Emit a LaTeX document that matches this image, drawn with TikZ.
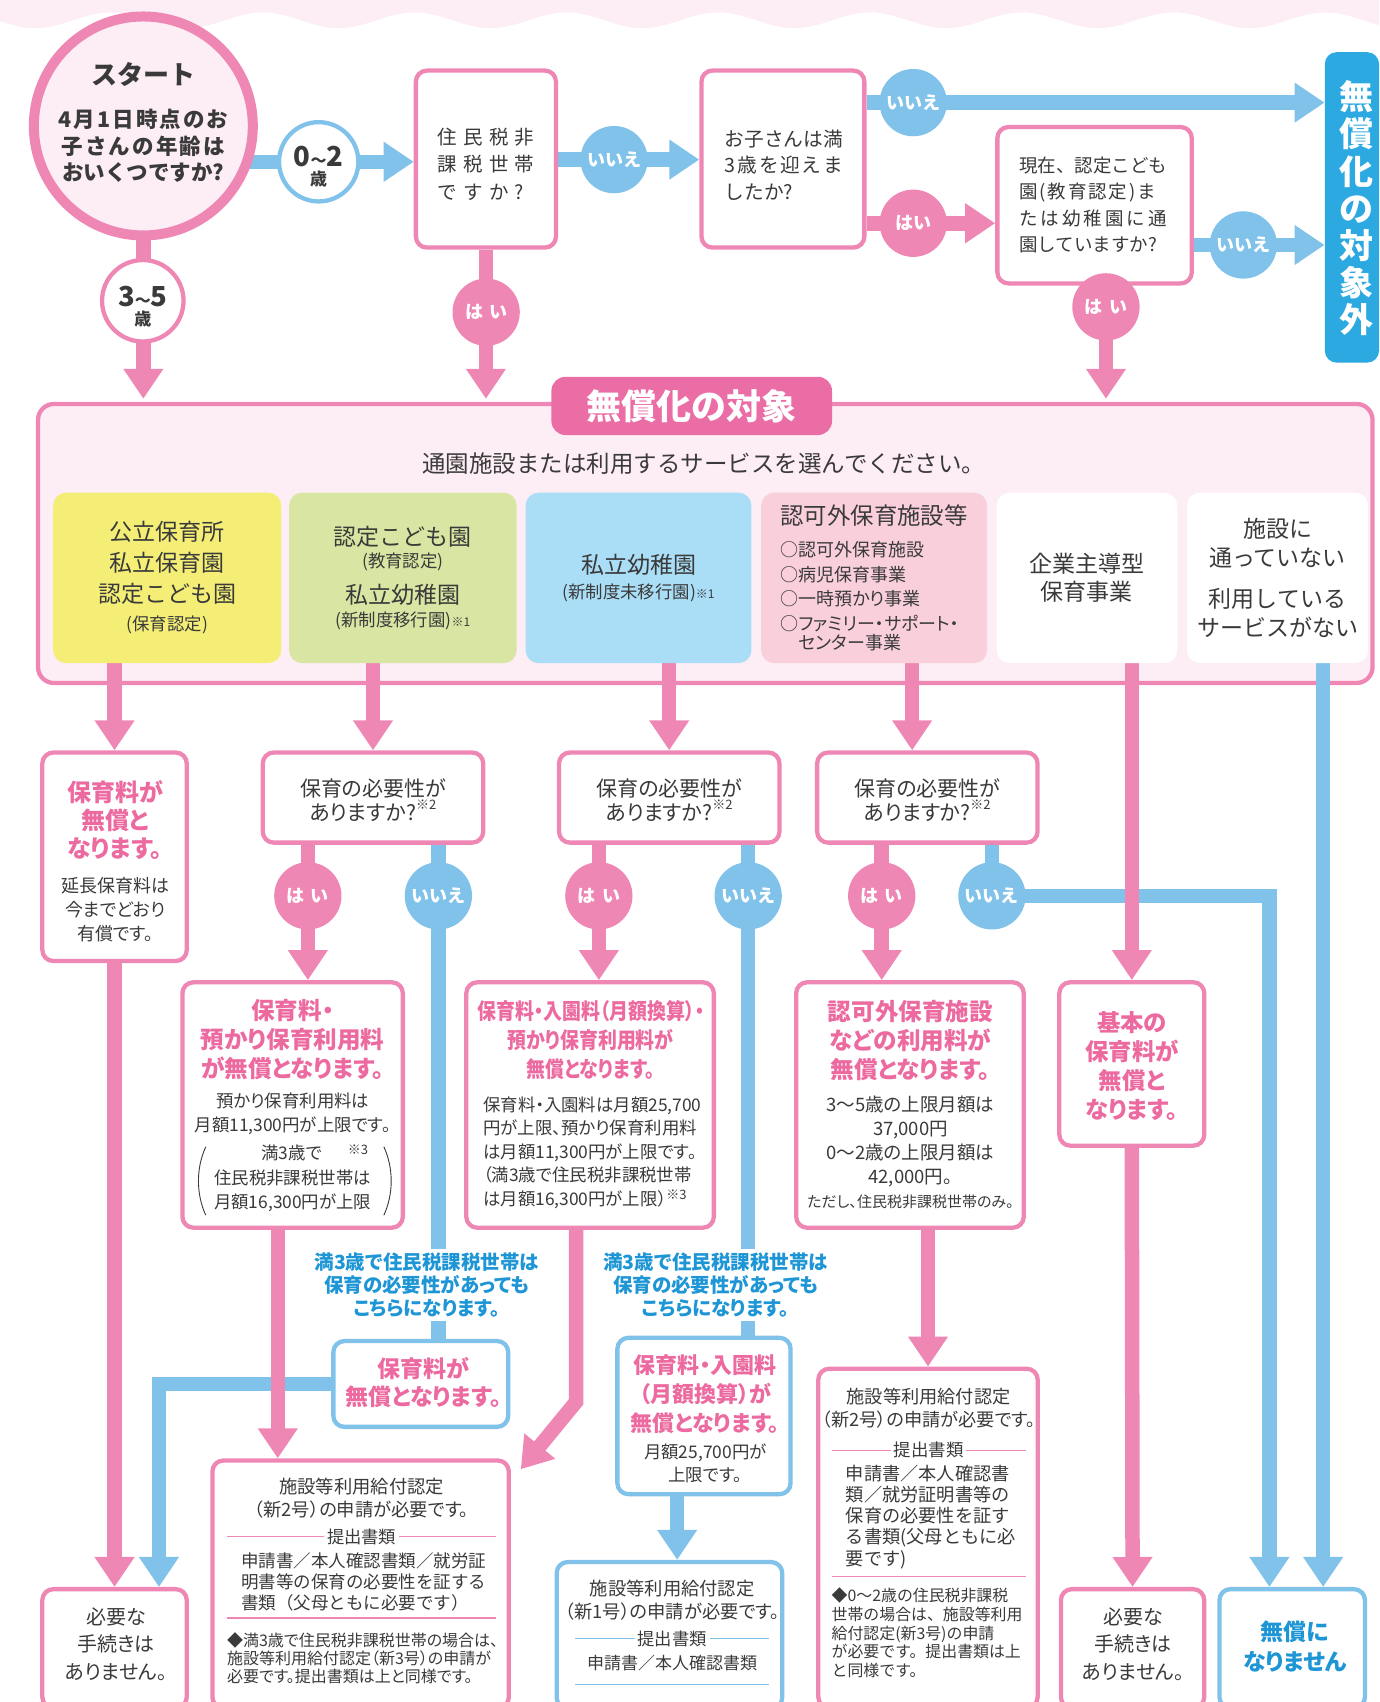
\documentclass[tikz,border=0pt]{standalone}
\usepackage{fontspec}
\usepackage{graphicx}
\setmainfont{Noto Sans CJK JP}
\newfontfamily\pf{Noto Sans CJK JP}[RawFeature=+palt]
\usetikzlibrary{arrows.meta,calc}
\definecolor{pk}{HTML}{EF87B5}
\definecolor{pktext}{HTML}{EC6AA0}
\definecolor{pktab}{HTML}{EB6DA5}
\definecolor{bl}{HTML}{80C2EA}
\definecolor{bltext}{HTML}{1E96D6}
\definecolor{bldeep}{HTML}{2DA9E1}
\definecolor{lpink}{HTML}{FDEDF5}
\definecolor{cyel}{HTML}{F4EE77}
\definecolor{cgrn}{HTML}{D9E6A3}
\definecolor{cblu}{HTML}{AADDF6}
\definecolor{cpnk}{HTML}{F9CFDC}
\definecolor{txt}{HTML}{3A3A3A}
\newcommand\fz[2]{\fontsize{#1pt}{#2pt}\selectfont\lineskiplimit=-\maxdimen\relax}
\newcommand\pkl[2]{{\fz{#1}{#1}\bfseries\color{pktext}#2}}
\newcommand\pkn[1]{\scalebox{0.86}[1]{\pkl{22}{#1}}}
\newcommand\lft[2]{\makebox[#1][l]{#2}}
\newcommand\seprule[2]{{\color{#2}\rule{#1}{1.1pt}}}
\newcommand\tsline[2]{\makebox[#1]{{\color{#2}\leaders\hrule height 7.2pt depth -6.1pt\hfill}\hspace{3pt}提出書類\hspace{3pt}{\color{#2}\leaders\hrule height 7.2pt depth -6.1pt\hfill}}}
\makeatletter
\newcommand\ltsp[2]{\def\ltsp@k{\kern#1}\ltsp@a#2\@nil}
\def\ltsp@a#1#2\@nil{#1\ifx\relax#2\relax\else\ltsp@k\ltsp@a#2\@nil\fi}
\makeatother
\pgfdeclarelayer{back}
\pgfdeclarelayer{bg}
\pgfsetlayers{back,bg,main}
\begin{document}
\begin{tikzpicture}[x=1.0859pt,y=-1.0859pt,line join=miter,
 sz/.style 2 args={minimum width=#1*1.0859pt,minimum height=#2*1.0859pt},
 pbox/.style={draw=pk,line width=4.3pt,fill=white,rounded corners=11pt,inner sep=0pt},
 bbox/.style={pbox,draw=bl},
 catbox/.style={rounded corners=13pt,inner sep=0pt,align=center,text=txt,font=\fz{23}{31}},
 bt/.style={align=center,text=txt,inner sep=0pt},
 qt/.style={align=left,text=txt,inner sep=0pt},
 labc/.style={circle,inner sep=0pt,minimum size=67.3pt,text=white,font=\fz{18}{18}\bfseries},
 yesc/.style={labc,fill=pk},
 noc/.style={labc,fill=bl},
 pbar/.style={draw=pk,line width=14.5pt},
 bbar/.style={draw=bl,line width=14.5pt},
 arrowend/.style={-{Triangle[width=38pt,length=30pt]}},
 paren/.style={draw=txt,line width=0.9pt},
 note/.style={fill=white,inner sep=4pt,align=center,text=bltext,font=\pf\fz{19.5}{23.1}\bfseries}]
\useasboundingbox (0,0) rectangle (1270,1567.4);

\begin{pgfonlayer}{back}
\fill[lpink] (0,0) -- (1270,0) -- plot[domain=1270:0,samples=200] (\x,{18.7+7.3*sin(2.5751*(\x+2.55))}) -- cycle;
\node[draw=pk,line width=4.3pt,fill=lpink,rounded corners=16pt,inner sep=0pt,sz={1229}{257}] (band) at (649.5,500.5) {};
\end{pgfonlayer}

% ---------- top part
\node[circle,draw=pk,line width=10pt,fill=lpink,minimum size=219pt,inner sep=0pt] (start) at (132,116) {};
\node[bt,font=\fz{21.5}{26.6}\bfseries] (startt) at (132,113) {{\fz{26}{26}スタート}\\[16pt]\ltsp{0.1em}{4月1日時点のお}\\\ltsp{0.1em}{子さんの年齢は}\\おいくつですか?};

\node[circle,draw=pk,line width=4.3pt,fill=white,minimum size=81.5pt,inner sep=0pt] (age35) at (131.5,277) {};
\node[bt,font=\fz{17}{21}\bfseries] (age35t) at (131.5,282.6) {{\fz{27.5}{27.5}3}{\fz{16}{16}～}{\fz{27.5}{27.5}5}\\[-2.3pt]歳};
\node[circle,draw=bl,line width=4.3pt,fill=white,minimum size=79.3pt,inner sep=0pt] (age02) at (293.5,149) {};
\node[bt,font=\fz{17}{21}\bfseries] (age02t) at (293.5,153.5) {{\fz{27.5}{27.5}0}{\fz{16}{16}～}{\fz{27.5}{27.5}2}\\[-2.3pt]歳};

\node[pbox,sz={129}{163}] (q1) at (447.5,146.5) {};
\node[qt,font=\fz{19.5}{27.4}] (q1t) at (447.5,151.3) {\ltsp{6.2pt}{住民税非}\\\ltsp{6.2pt}{課税世帯}\\\ltsp{6.2pt}{ですか?}};
\node[pbox,sz={150}{163}] (q2) at (721,146.5) {};
\node[qt,font=\fz{19.7}{26.7}] (q2t) at (722,152) {お子さんは満\\\ltsp{0.09em}{3歳を迎えま}\\したか?};
\node[pbox,sz={179}{144}] (q3) at (1008,189) {};
\node[qt,font=\fz{18.5}{26.6}] (q3t) at (1007,188.8) {現在、認定こども\\\ltsp{0.1em}{園(教育認定)ま}\\\ltsp{0.16em}{たは幼稚園に通}\\園していますか?};

\node[fill=bldeep,rounded corners=12pt,inner sep=0pt,sz={50}{286}] (gai) at (1245,191) {};
\node[bt,text=white,font=\fz{34}{37.2}\bfseries] (gait) at (1249,191.8) {無\\償\\化\\の\\対\\象\\外};

\node[noc] (no1) at (565.5,147) {いいえ};
\node[noc] (no2) at (841,94.5) {いいえ};
\node[yesc] (yes2) at (841,205.6) {はい};
\node[noc] (no3) at (1145,225.6) {いいえ};
\node[yesc] (yes1) at (447.7,287.5) {は\kern.35em い};
\node[yesc] (yes3) at (1018.5,282.6) {は\kern.35em い};

% ---------- band
\node[fill=pktab,rounded corners=14pt,inner sep=0pt,sz={258.4}{53.6},text=white,font=\fz{35}{35}\bfseries] (tab) at (637,373.8) {無償化の対象};
\node[text=txt,inner sep=0pt,font=\fz{23.5}{24}] (instr) at (648,427) {通園施設または利用するサービスを選んでください。};

\node[catbox,fill=cyel,sz={210}{157}] (cat1) at (154,532.2) {公立保育所\\私立保育園\\認定こども園\\[-3.2pt]{\fz{17.4}{17.4}(保育認定)}};
\node[catbox,fill=cgrn,sz={209.6}{157}] (cat2) at (371,532.2) {認定こども園\\[-8.1pt]{\fz{17.4}{17.4}(教育認定)}\\[4.8pt]私立幼稚園\\[-8.1pt]{\fz{17.4}{17.4}(新制度移行園){\fz{12}{12}※1}}};
\node[catbox,fill=cblu,sz={208}{157}] (cat3) at (588,532.2) {私立幼稚園\\[-6.4pt]{\fz{17.4}{17.4}(新制度未移行園){\fz{12}{12}※1}}};
\node[catbox,fill=cpnk,sz={208}{157},align=left,font=\pf\fz{18}{24.5}] (cat4) at (805,532.2) {{\fz{23.4}{23.4}認可外保育施設等}\\[7.6pt]○認可外保育施設\\○病児保育事業\\○一時預かり事業\\○ファミリー・サポート・\\[-5pt]\phantom{○}センター事業};
\node[catbox,fill=white,sz={166.4}{157}] (cat5) at (1001,532.2) {企業主導型\\[-2.8pt]保育事業};
\node[catbox,fill=white,sz={167}{157}] (cat6) at (1176.5,532.2) {施設に\\[-1.4pt]通っていない\\[9.1pt]利用している\\[-1.4pt]サービスがない};

% ---------- second row
\node[pbox,sz={133}{192}] (boxA) at (105.5,789) {};
\node[bt,font=\pf\fz{18}{23.9}] (boxAt) at (106,793) {\pkl{24}{保育料が}\\[4.3pt]\pkl{24}{無償と}\\[4.3pt]\pkl{24}{なります。}\\[10.7pt]延長保育料は\\今までどおり\\有償です。};
\node[pbox,sz={203}{83}] (b1) at (343.5,734.5) {};
\node[bt,font=\pf\fz{21}{23.4}] (b1t) at (343.5,737) {保育の必要性が\\ありますか?\raisebox{0.5em}{\fz{13}{13}※2}};
\node[pbox,sz={203}{83}] (b2) at (616.3,734.5) {};
\node[bt,font=\pf\fz{21}{23.4}] (b2t) at (616.3,737) {保育の必要性が\\ありますか?\raisebox{0.5em}{\fz{13}{13}※2}};
\node[pbox,sz={203}{83}] (b3) at (854,734.5) {};
\node[bt,font=\pf\fz{21}{23.4}] (b3t) at (854,737) {保育の必要性が\\ありますか?\raisebox{0.5em}{\fz{13}{13}※2}};

\node[yesc] (yb1) at (283.5,825) {は\kern.35em い};
\node[noc] (nb1) at (403.7,825) {いいえ};
\node[yesc] (yb2) at (551.5,825) {は\kern.35em い};
\node[noc] (nb2) at (689,825) {いいえ};
\node[yesc] (yb3) at (812,825) {は\kern.35em い};
\node[noc] (nb3) at (913.5,825) {いいえ};

% ---------- third row
\node[pbox,sz={203}{226}] (c1) at (269.5,1017.6) {};
\node[bt,font=\pf\fz{17.4}{24.4}] (c1t) at (269.5,1020) {\pkl{23.6}{保育料・}\\[4.7pt]\pkl{23.6}{預かり保育利用料}\\[4.7pt]\pkl{23.6}{が無償となります。}\\[4.9pt]預かり保育利用料は\\月額11,300円が上限です。\\[27.7pt]{\lineskiplimit=0pt\begin{tabular}{@{}c@{}}\hspace*{44pt}満3歳で\hspace{1.5em}\raisebox{0.3em}{\fz{13}{13}※3}\\住民税非課税世帯は\\月額16,300円が上限\end{tabular}}};
\draw[paren] ($(c1.center)+(-80,38.5)$) .. controls ($(c1.center)+(-89,58)$) and ($(c1.center)+(-89,82)$) .. ($(c1.center)+(-80,101.5)$);
\draw[paren] ($(c1.center)+(84,38.5)$) .. controls ($(c1.center)+(93,58)$) and ($(c1.center)+(93,82)$) .. ($(c1.center)+(84,101.5)$);
\node[pbox,sz={228}{226}] (c2) at (543.4,1017.6) {};
\node[bt,font=\pf\fz{17.4}{23.5}] (c2t) at (544,1017.3) {\pkn{保育料・入園料（月額換算）・}\\[5.6pt]\pkn{預かり保育利用料が}\\[5.6pt]\pkn{無償となります。}\\[9.8pt]\lft{215pt}{保育料・入園料は月額25,700}\\\lft{215pt}{円が上限、預かり保育利用料}\\\lft{215pt}{は月額11,300円が上限です。}\\\lft{215pt}{（満3歳で住民税非課税世帯}\\\lft{215pt}{は月額16,300円が上限）\raisebox{0.35em}{\fz{13}{13}※3}}};
\node[pbox,sz={209.6}{226}] (c3) at (838,1017.6) {};
\node[bt,font=\pf\fz{18.5}{24}] (c3t) at (838.5,1017.3) {\pkl{23.6}{認可外保育施設}\\[5.1pt]\pkl{23.6}{などの利用料が}\\[5.1pt]\pkl{23.6}{無償となります。}\\[9.2pt]3～5歳の上限月額は\\37,000円\\0～2歳の上限月額は\\42,000円。\\[-0.3pt]{\fz{15}{15}ただし、住民税非課税世帯のみ。}};
\node[pbox,sz={133.5}{150.5}] (c4) at (1042.3,979.8) {};
\node[bt,text=pktext,font=\pf\fz{23.4}{29}\bfseries] (c4t) at (1042.5,982) {基本の\\保育料が\\無償と\\なります。};

\node[note] (note1) at (393,1183.3) {満3歳で住民税課税世帯は\\保育の必要性があっても\\こちらになります。};
\node[note] (note2) at (659,1183.3) {満3歳で住民税課税世帯は\\保育の必要性があっても\\こちらになります。};

\node[bbox,sz={161}{79}] (d1) at (387.5,1274.5) {};
\node[bt,text=pktext,font=\pf\fz{23}{28.2}\bfseries] (d1t) at (390,1273) {保育料が\\無償となります。};
\node[bbox,sz={159.5}{144}] (d2) at (648.3,1304) {};
\node[bt,font=\pf\fz{17.4}{22.8}] (d2t) at (649.5,1306.4) {\pkl{22}{保育料・入園料}\\[6.2pt]\pkl{22}{（月額換算）が}\\[6.2pt]\pkl{22}{無償となります。}\\[4.2pt]月額25,700円が\\上限です。};

% ---------- bottom
\node[pbox,sz={273}{228}] (e1) at (332.1,1459) {};
\node[bt,font=\fz{18.3}{20.9}] (e1t) at (333,1456) {{\pf 施設等利用給付認定}\\[2.4pt]{\pf （新2号）の申請が必要です。}\\[5.3pt]{\fz{17.3}{17.3}\tsline{269pt}{pk}}\\[3.9pt]{\fz{17.5}{17.5}\lft{241pt}{申請書／本人確認書類／就労証}}\\{\fz{17.5}{17.5}\lft{241pt}{明書等の保育の必要性を証する}}\\{\fz{17.5}{17.5}\lft{241pt}{書類（父母ともに必要です）}}\\[-12.1pt]\seprule{269pt}{pk}\\[7.3pt]{\pf\fz{16}{16}\lft{269pt}{◆満3歳で住民税非課税世帯の場合は、}}\\[-3pt]{\pf\fz{16}{16}\lft{269pt}{施設等利用給付認定（新3号）の申請が}}\\[-3pt]{\pf\fz{16}{16}\lft{269pt}{必要です。提出書類は上と同様です。}}};
\node[bbox,sz={207.7}{135}] (e2) at (616.5,1506) {};
\node[bt,font=\fz{18.3}{23.2}] (e2t) at (619,1503.3) {{\pf 施設等利用給付認定}\\{\pf （新1号）の申請が必要です。}\\[3.5pt]{\fz{17.3}{17.3}\tsline{194pt}{bl}}\\[1.1pt]{\fz{17}{17}申請書／本人確認書類}\\[-7.9pt]\seprule{194pt}{bl}};
\node[pbox,sz={202}{312.5}] (e3) at (854.6,1416.7) {};
\node[bt,font=\fz{18.2}{21.2}] (e3t) at (855.2,1411.7) {{\pf 施設等利用給付認定}\\[2.4pt]{\pf （新2号）の申請が必要です。}\\[8.7pt]{\fz{17.4}{17.4}\tsline{194pt}{pk}}\\[2.4pt]\lft{165.5pt}{申請書／本人確認書}\\\lft{165.5pt}{類／就労証明書等の}\\\lft{165.5pt}{保育の必要性を証す}\\\lft{165.5pt}{る書類(父母ともに必}\\\lft{165.5pt}{要です)}\\[-9.2pt]\seprule{194pt}{pk}\\[3.5pt]{\fz{15.9}{15.9}\lft{194pt}{◆0～2歳の住民税非課税}}\\[-2.5pt]{\fz{15.9}{15.9}\lft{194pt}{世帯の場合は、施設等利用}}\\[-2.5pt]{\fz{15.9}{15.9}\lft{194pt}{給付認定(新3号)の申請}}\\[-2.5pt]{\fz{15.9}{15.9}\lft{194pt}{が必要です。提出書類は上}}\\[-2.5pt]{\fz{15.9}{15.9}\lft{194pt}{と同様です。}}};

\node[pbox,sz={133}{109.5}] (f1) at (105.5,1518.2) {};
\node[bt,font=\pf\fz{20}{27.5}] (f1t) at (107,1514) {必要な\\手続きは\\ありません。};
\node[pbox,sz={132}{109.5}] (f2) at (1043,1518.2) {};
\node[bt,font=\pf\fz{20}{27.5}] (f2t) at (1043.5,1514) {必要な\\手続きは\\ありません。};
\node[bbox,sz={134}{109.5}] (f3) at (1190,1518.2) {};
\node[bt,text=bltext,font=\pf\fz{23}{29.8}\bfseries] (f3t) at (1192.5,1516.3) {無償に\\なりません};

% helper coordinates
\coordinate (x840) at (840,0);
\coordinate (x1218) at (1218.5,0);
\coordinate (x1170) at (1169,0);
\coordinate (x255) at (255.8,0);
\coordinate (x530) at (530.5,0);
\coordinate (x147) at (146.4,0);
\coordinate (x623) at (623.6,0);
\coordinate (bendy) at (0,1291);
\coordinate (e1tip) at ($(e1.north east)+(9,10)$);

% ---------- connectors
\begin{pgfonlayer}{bg}
% blue
\draw[bbar,arrowend] (start.center |- age02) -- (q1.west |- age02);
\draw[bbar,arrowend] (q1.east |- no1) -- (q2.west |- no1);
\draw[bbar,arrowend] (q2.east |- no2) -- (gai.west |- no2);
\draw[bbar,arrowend] (q3.east |- no3) -- (gai.west |- no3);
\draw[bbar,arrowend] (cat6.south -| x1218) -- (f3.north -| x1218);
\draw[bbar] (b1.south -| nb1) -- (d1.north -| nb1);
\draw[bbar] (b2.south -| nb2) -- (d2.north -| nb2);
\draw[bbar,arrowend] (b3.south -| nb3) -- (nb3.center) -- (nb3.center -| x1170) -- (f3.north -| x1170);
\draw[bbar,arrowend] (d1.west) -- (d1.west -| x147) -- (f1.north -| x147);
\draw[bbar,arrowend] (d2.south -| x623) -- (e2.north -| x623);
% pink
\draw[pbar,arrowend,shorten >=3pt] (start.center) -- (start.center |- band.north);
\draw[pbar,arrowend,shorten >=3pt] (q1.south) -- (q1.south |- band.north);
\draw[pbar,arrowend] (q2.east |- yes2) -- (q3.west |- yes2);
\draw[pbar,arrowend,shorten >=3pt] (yes3.center) -- (yes3.center |- band.north);
\draw[pbar,arrowend] (cat1.south -| boxA) -- (boxA.north);
\draw[pbar,arrowend] (cat2.south -| b1) -- (b1.north);
\draw[pbar,arrowend] (cat3.south -| b2) -- (b2.north);
\draw[pbar,arrowend] (cat4.south -| x840) -- (b3.north -| x840);
\draw[pbar,arrowend] (cat5.south -| c4) -- (c4.north);
\draw[pbar,arrowend] (boxA.south) -- (f1.north);
\draw[pbar,arrowend] (b1.south -| yb1) -- (c1.north -| yb1);
\draw[pbar,arrowend] (b2.south -| yb2) -- (c2.north -| yb2);
\draw[pbar,arrowend] (b3.south -| yb3) -- (c3.north -| yb3);
\draw[pbar,arrowend] (c4.south) -- (f2.north);
\draw[pbar,arrowend] (c1.south -| x255) -- (e1.north -| x255);
\draw[pbar,arrowend] (c2.south -| x530) -- (x530 |- bendy) -- (e1tip);
\draw[pbar,arrowend] (c3.south -| e3) -- (e3.north);
\end{pgfonlayer}
\end{tikzpicture}
\end{document}
